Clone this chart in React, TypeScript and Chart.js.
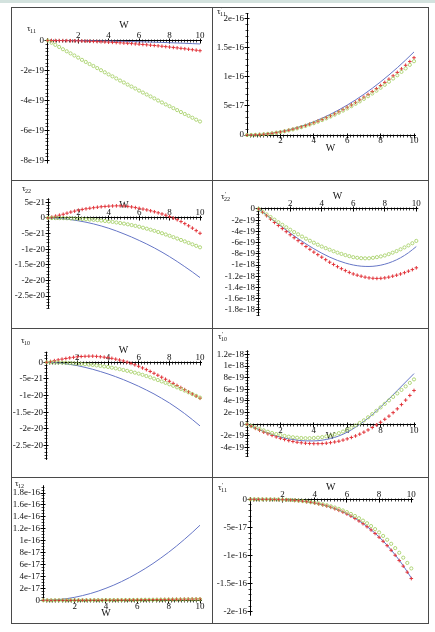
import React, { useEffect, useRef } from 'react';
import { Chart, registerables } from 'chart.js';

Chart.register(...registerables);

// ---------- data ----------
// W sample points: markers every 0.25, curves every 0.5
const W_MARK = [0, 0.25, 0.5, 0.75, 1, 1.25, 1.5, 1.75, 2, 2.25, 2.5, 2.75, 3, 3.25, 3.5, 3.75, 4, 4.25, 4.5, 4.75, 5, 5.25, 5.5, 5.75, 6, 6.25, 6.5, 6.75, 7, 7.25, 7.5, 7.75, 8, 8.25, 8.5, 8.75, 9, 9.25, 9.5, 9.75, 10];
const W_LINE = [0, 0.5, 1, 1.5, 2, 2.5, 3, 3.5, 4, 4.5, 5, 5.5, 6, 6.5, 7, 7.5, 8, 8.5, 9, 9.5, 10];
const X_TICKS = [2, 4, 6, 8, 10];

// tau_11 (values in units of 1e-19)
const T11_LINE = [0, -0.001, -0.002, -0.005, -0.009, -0.014, -0.021, -0.028, -0.037, -0.047, -0.058, -0.07, -0.083, -0.097, -0.113, -0.129, -0.147, -0.166, -0.186, -0.208, -0.23];
const T11_CROSS = [0, 0, -0.002, -0.004, -0.007, -0.011, -0.015, -0.021, -0.027, -0.034, -0.043, -0.051, -0.061, -0.072, -0.083, -0.096, -0.109, -0.123, -0.138, -0.153, -0.17, -0.187, -0.206, -0.225, -0.245, -0.266, -0.287, -0.31, -0.333, -0.357, -0.383, -0.408, -0.435, -0.463, -0.491, -0.521, -0.551, -0.582, -0.614, -0.646, -0.68];
const T11_CIRCLE = [0, -0.15, -0.29, -0.43, -0.58, -0.72, -0.86, -1.0, -1.14, -1.29, -1.43, -1.57, -1.7, -1.84, -1.98, -2.12, -2.26, -2.39, -2.53, -2.67, -2.8, -2.94, -3.07, -3.2, -3.34, -3.47, -3.6, -3.73, -3.86, -4.0, -4.13, -4.26, -4.38, -4.51, -4.64, -4.77, -4.9, -5.02, -5.15, -5.28, -5.4];
const T11_YTICKS = [0, -2, -4, -6, -8];

// tau'_11, first panel (units of 1e-17)
const TP11A_LINE = [0, 0.036, 0.143, 0.322, 0.572, 0.894, 1.287, 1.752, 2.288, 2.896, 3.575, 4.326, 5.148, 6.042, 7.007, 8.044, 9.152, 10.332, 11.583, 12.906, 14.3];
const TP11A_CROSS = [0, 0.008, 0.033, 0.075, 0.133, 0.208, 0.299, 0.407, 0.532, 0.673, 0.831, 1.006, 1.197, 1.405, 1.629, 1.87, 2.128, 2.402, 2.693, 3.001, 3.325, 3.666, 4.023, 4.397, 4.788, 5.195, 5.619, 6.06, 6.517, 6.991, 7.481, 7.988, 8.512, 9.052, 9.609, 10.183, 10.773, 11.38, 12.003, 12.643, 13.3];
const TP11A_CIRCLE = [0, 0.008, 0.032, 0.071, 0.127, 0.198, 0.286, 0.389, 0.508, 0.643, 0.794, 0.96, 1.143, 1.341, 1.556, 1.786, 2.032, 2.294, 2.572, 2.865, 3.175, 3.5, 3.842, 4.199, 4.572, 4.961, 5.366, 5.786, 6.223, 6.675, 7.144, 7.628, 8.128, 8.644, 9.176, 9.723, 10.287, 10.866, 11.462, 12.073, 12.7];
const TP11A_YTICKS = [0, 5, 10, 15, 20];

// tau_22 (units of 1e-21)
const T22_LINE = [0, -0.07, -0.25, -0.53, -0.9, -1.35, -1.9, -2.55, -3.3, -4.15, -5.1, -6.1, -7.2, -8.35, -9.6, -10.95, -12.4, -13.95, -15.6, -17.3, -19.1];
const T22_CROSS = [0, 0.3, 0.6, 0.9, 1.2, 1.55, 1.9, 2.2, 2.5, 2.75, 2.95, 3.13, 3.3, 3.46, 3.6, 3.71, 3.8, 3.86, 3.9, 3.89, 3.85, 3.72, 3.55, 3.34, 3.1, 2.86, 2.6, 2.31, 2.0, 1.66, 1.3, 0.9, 0.45, -0.03, -0.55, -1.15, -1.8, -2.5, -3.25, -4.05, -4.9];
const T22_CIRCLE = [0, -0.002, -0.01, -0.03, -0.05, -0.09, -0.14, -0.19, -0.25, -0.33, -0.41, -0.5, -0.6, -0.71, -0.83, -0.96, -1.1, -1.26, -1.43, -1.61, -1.8, -2.03, -2.27, -2.53, -2.8, -3.11, -3.43, -3.76, -4.1, -4.49, -4.88, -5.29, -5.7, -6.14, -6.59, -7.04, -7.5, -7.97, -8.44, -8.92, -9.4];
const T22_YTICKS = [5, 0, -5, -10, -15, -20, -25];

// tau'_22 (units of 1e-19)
const TP22_LINE = [0, -1.1, -2.19, -3.26, -4.3, -5.29, -6.23, -7.1, -7.89, -8.59, -9.18, -9.65, -10.0, -10.21, -10.26, -10.15, -9.86, -9.38, -8.71, -7.82, -6.7];
const TP22_CROSS = [0, -0.6, -1.2, -1.8, -2.4, -2.95, -3.5, -4.05, -4.6, -5.13, -5.65, -6.18, -6.7, -7.2, -7.7, -8.15, -8.6, -9.05, -9.5, -9.9, -10.3, -10.66, -11.0, -11.32, -11.6, -11.82, -12.0, -12.17, -12.3, -12.37, -12.4, -12.38, -12.3, -12.17, -12.0, -11.82, -11.6, -11.37, -11.1, -10.82, -10.5];
const TP22_CIRCLE = [0, -0.48, -0.96, -1.43, -1.9, -2.36, -2.82, -3.27, -3.7, -4.12, -4.52, -4.92, -5.3, -5.67, -6.02, -6.37, -6.7, -6.99, -7.27, -7.54, -7.8, -8.02, -8.23, -8.42, -8.6, -8.71, -8.78, -8.81, -8.8, -8.72, -8.6, -8.47, -8.3, -8.06, -7.8, -7.52, -7.2, -6.86, -6.5, -6.11, -5.7];
const TP22_YTICKS = [0, -2, -4, -6, -8, -10, -12, -14, -16, -18];

// tau_10 (units of 1e-21)
const T10_LINE = [0, -0.1, -0.3, -0.62, -1.0, -1.52, -2.1, -2.77, -3.5, -4.32, -5.2, -6.17, -7.2, -8.32, -9.5, -10.82, -12.2, -13.75, -15.4, -17.2, -19.1];
const T10_CROSS = [0, 0.25, 0.5, 0.73, 0.95, 1.15, 1.33, 1.5, 1.65, 1.74, 1.8, 1.84, 1.85, 1.78, 1.66, 1.54, 1.4, 1.19, 0.95, 0.69, 0.4, 0.04, -0.35, -0.76, -1.2, -1.69, -2.2, -2.74, -3.3, -3.88, -4.48, -5.09, -5.7, -6.33, -6.96, -7.58, -8.2, -8.85, -9.5, -10.15, -10.8];
const T10_CIRCLE = [0, -0.01, -0.03, -0.06, -0.1, -0.16, -0.24, -0.32, -0.4, -0.49, -0.59, -0.69, -0.8, -0.94, -1.09, -1.24, -1.4, -1.61, -1.83, -2.06, -2.3, -2.56, -2.83, -3.11, -3.4, -3.76, -4.13, -4.51, -4.9, -5.32, -5.74, -6.17, -6.6, -7.06, -7.53, -8.01, -8.5, -9.02, -9.54, -10.07, -10.6];
const T10_YTICKS = [0, -5, -10, -15, -20, -25];

// tau'_10 (units of 1e-19)
const TP10_LINE = [0, -0.65, -1.25, -1.75, -2.2, -2.5, -2.72, -2.84, -2.85, -2.72, -2.45, -2.0, -1.35, -0.5, 0.5, 1.65, 2.95, 4.35, 5.8, 7.25, 8.7];
const TP10_CROSS = [0, -0.35, -0.7, -1.03, -1.35, -1.63, -1.9, -2.16, -2.4, -2.61, -2.8, -2.95, -3.08, -3.17, -3.25, -3.29, -3.32, -3.32, -3.3, -3.24, -3.15, -3.03, -2.9, -2.71, -2.5, -2.26, -2.0, -1.69, -1.35, -0.97, -0.55, -0.12, 0.35, 0.86, 1.4, 2.0, 2.65, 3.38, 4.15, 4.95, 5.8];
const TP10_CIRCLE = [0, -0.28, -0.55, -0.8, -1.05, -1.28, -1.5, -1.68, -1.85, -1.99, -2.12, -2.22, -2.3, -2.35, -2.38, -2.38, -2.35, -2.3, -2.2, -2.08, -1.93, -1.74, -1.52, -1.24, -0.92, -0.58, -0.2, 0.23, 0.68, 1.2, 1.75, 2.32, 2.9, 3.5, 4.1, 4.7, 5.3, 5.9, 6.5, 7.1, 7.7];
const TP10_YTICKS = [12, 10, 8, 6, 4, 2, 0, -2, -4];

// tau_12 (units of 1e-17)
const T12_LINE = [0, 0.03, 0.13, 0.28, 0.5, 0.79, 1.13, 1.54, 2.02, 2.55, 3.15, 3.81, 4.54, 5.32, 6.17, 7.09, 8.06, 9.1, 10.21, 11.37, 12.6];
const T12_CROSS = [0, 0, 0, 0, 0, 0.01, 0.01, 0.01, 0.01, 0.01, 0.02, 0.02, 0.02, 0.03, 0.03, 0.04, 0.04, 0.05, 0.05, 0.06, 0.06, 0.07, 0.08, 0.08, 0.09, 0.1, 0.11, 0.11, 0.12, 0.13, 0.14, 0.15, 0.16, 0.17, 0.18, 0.19, 0.2, 0.21, 0.23, 0.24, 0.25];
const T12_CIRCLE = [0, 0, 0, 0, 0, 0, 0, 0, 0.01, 0.01, 0.01, 0.01, 0.01, 0.02, 0.02, 0.02, 0.02, 0.03, 0.03, 0.03, 0.04, 0.04, 0.05, 0.05, 0.05, 0.06, 0.06, 0.07, 0.07, 0.08, 0.08, 0.09, 0.1, 0.1, 0.11, 0.11, 0.12, 0.13, 0.14, 0.14, 0.15];
const T12_YTICKS = [0, 2, 4, 6, 8, 10, 12, 14, 16, 18];

// tau'_11, second panel (units of 1e-17)
const TP11B_LINE = [0, -0.001, -0.007, -0.027, -0.069, -0.144, -0.264, -0.438, -0.681, -1.004, -1.421, -1.947, -2.594, -3.378, -4.315, -5.418, -6.705, -8.189, -9.888, -11.82, -14.0];
const TP11B_CROSS = [0, 0, -0.001, -0.003, -0.007, -0.015, -0.027, -0.045, -0.07, -0.103, -0.145, -0.199, -0.265, -0.346, -0.442, -0.554, -0.685, -0.837, -1.011, -1.208, -1.431, -1.682, -1.961, -2.27, -2.613, -2.989, -3.402, -3.855, -4.346, -4.879, -5.457, -6.08, -6.752, -7.473, -8.247, -9.076, -9.959, -10.9, -11.9, -12.97, -14.1];
const TP11B_CIRCLE = [0, 0, -0.001, -0.002, -0.006, -0.013, -0.024, -0.039, -0.061, -0.09, -0.127, -0.174, -0.232, -0.302, -0.385, -0.483, -0.598, -0.73, -0.882, -1.054, -1.248, -1.467, -1.711, -1.98, -2.279, -2.608, -2.968, -3.363, -3.791, -4.256, -4.76, -5.304, -5.89, -6.519, -7.194, -7.918, -8.687, -9.509, -10.385, -11.32, -12.3];
const TP11B_YTICKS = [0, -5, -10, -15, -20];

// ---------- styling / layout ----------
const FONT = '"Liberation Serif", "Times New Roman", "DejaVu Serif", serif';
const BLUE = '#6676c6';
const RED = '#e2363c';
const GREEN = '#a0cd5c';
const AXIS = '#000';
const MINOR = '#444';
const TEXT = '#111';
const RULE = '#4a4a4a';
const X_MINOR = 0.2;

const COLS = [{ x: 12, w: 200 }, { x: 213, w: 215 }];
const ROWS = [{ y: 8, h: 172 }, { y: 181, h: 147 }, { y: 329, h: 148 }, { y: 478, h: 145 }];
const V_RULES = [11, 212, 428];
const H_RULES = [7, 180, 328, 477, 623];

type Panel = {
  id: string; col: number; row: number;
  x0: number; x10: number; zero: number; per: number;
  yMax: number; yMin: number; exp: number;
  yTicks: number[]; yMinor: number;
  labDy: number; wDy: number; wX: number;
  tau: { x: number; y: number; prime: boolean; sub: string };
  line: number[]; cross: number[]; circle: number[];
};

const PANELS: Panel[] = [
  { id: 't11', col: 0, row: 0, x0: 47.7, x10: 200, zero: 40.5, per: 15, yMax: 0.15, yMin: -8.2, exp: -19,
    yTicks: T11_YTICKS, yMinor: 0.25, labDy: -5, wDy: -15, wX: 5,
    tau: { x: 27, y: 31, prime: false, sub: '11' }, line: T11_LINE, cross: T11_CROSS, circle: T11_CIRCLE },
  { id: 'tp11a', col: 1, row: 0, x0: 247, x10: 414, zero: 135, per: 5.85, yMax: 21, yMin: -0.3, exp: -17,
    yTicks: TP11A_YTICKS, yMinor: 1, labDy: 5.5, wDy: 12.5, wX: 5,
    tau: { x: 217, y: 14, prime: true, sub: '11' }, line: TP11A_LINE, cross: TP11A_CROSS, circle: TP11A_CIRCLE },
  { id: 't22', col: 0, row: 1, x0: 48, x10: 200, zero: 218, per: 3.12, yMax: 6.3, yMin: -29, exp: -21,
    yTicks: T22_YTICKS, yMinor: 1, labDy: -5, wDy: -12.5, wX: 5,
    tau: { x: 22, y: 191, prime: false, sub: '22' }, line: T22_LINE, cross: T22_CROSS, circle: T22_CIRCLE },
  { id: 'tp22', col: 1, row: 1, x0: 258.7, x10: 416.3, zero: 209, per: 5.6, yMax: 0.4, yMin: -19.1, exp: -19,
    yTicks: TP22_YTICKS, yMinor: 0.5, labDy: -5, wDy: -12.3, wX: 5,
    tau: { x: 221, y: 199, prime: true, sub: '22' }, line: TP22_LINE, cross: TP22_CROSS, circle: TP22_CIRCLE },
  { id: 't10', col: 0, row: 2, x0: 46.7, x10: 200, zero: 362.3, per: 3.33, yMax: 3.2, yMin: -29.3, exp: -21,
    yTicks: T10_YTICKS, yMinor: 1, labDy: -4.8, wDy: -11.8, wX: 5,
    tau: { x: 21, y: 343, prime: false, sub: '10' }, line: T10_LINE, cross: T10_CROSS, circle: T10_CIRCLE },
  { id: 'tp10', col: 1, row: 2, x0: 247, x10: 414, zero: 424.3, per: 5.83, yMax: 12.7, yMin: -5.6, exp: -19,
    yTicks: TP10_YTICKS, yMinor: 0.5, labDy: 6, wDy: 11.7, wX: 5,
    tau: { x: 218, y: 339, prime: true, sub: '10' }, line: TP10_LINE, cross: TP10_CROSS, circle: TP10_CIRCLE },
  { id: 't12', col: 0, row: 3, x0: 43.3, x10: 200, zero: 600.3, per: 5.96, yMax: 19.3, yMin: -0.2, exp: -17,
    yTicks: T12_YTICKS, yMinor: 0.5, labDy: 5.7, wDy: 13.3, wX: 4,
    tau: { x: 15, y: 486, prime: false, sub: '12' }, line: T12_LINE, cross: T12_CROSS, circle: T12_CIRCLE },
  { id: 'tp11b', col: 1, row: 3, x0: 250.3, x10: 411.3, zero: 499.3, per: 5.62, yMax: 0.4, yMin: -20.7, exp: -17,
    yTicks: TP11B_YTICKS, yMinor: 1, labDy: -5, wDy: -12.6, wX: 5,
    tau: { x: 218, y: 490, prime: true, sub: '11' }, line: TP11B_LINE, cross: TP11B_CROSS, circle: TP11B_CIRCLE },
];

// Maple-style tick text, e.g. -2e-19, 1.5e-16, 0
function fmt(real: number): string {
  if (real === 0) return '0';
  return Number(real.toPrecision(6)).toExponential();
}

const crisp = (v: number) => Math.round(v - 0.5) + 0.5;

// Axes crossing at the origin, placed through the chart's own scales
function mapleAxes(p: Panel, cl: number, ct: number) {
  const unit = Math.pow(10, p.exp);
  return {
    id: 'mapleAxes',
    beforeDatasetsDraw(chart: any) {
      const { ctx, chartArea } = chart;
      const xs = chart.scales.x;
      const ys = chart.scales.y;
      const yPix = (v: number) => ys.getPixelForValue(v * unit);
      const ax = crisp(xs.getPixelForValue(0));
      const ay = crisp(yPix(0));
      ctx.save();
      ctx.lineWidth = 1;

      // minor ticks
      ctx.strokeStyle = MINOR;
      ctx.beginPath();
      const k0 = Math.ceil(p.yMin / p.yMinor - 1e-6);
      const k1 = Math.floor(p.yMax / p.yMinor + 1e-6);
      for (let k = k0; k <= k1; k++) {
        const y = crisp(yPix(k * p.yMinor));
        ctx.moveTo(ax - 2, y);
        ctx.lineTo(ax + 1, y);
      }
      for (let k = 1; k * X_MINOR <= 10 + 1e-9; k++) {
        const x = crisp(xs.getPixelForValue(k * X_MINOR));
        ctx.moveTo(x, ay - 1);
        ctx.lineTo(x, ay + 2);
      }
      ctx.stroke();

      // axis lines and major ticks
      ctx.strokeStyle = AXIS;
      ctx.beginPath();
      ctx.moveTo(ax, chartArea.top);
      ctx.lineTo(ax, chartArea.bottom);
      ctx.moveTo(ax, ay);
      ctx.lineTo(chartArea.right + 2, ay);
      for (const v of p.yTicks) {
        const y = crisp(yPix(v));
        ctx.moveTo(ax - 3, y);
        ctx.lineTo(ax + 2, y);
      }
      for (const v of X_TICKS) {
        const x = crisp(xs.getPixelForValue(v));
        ctx.moveTo(x, ay - 2);
        ctx.lineTo(x, ay + 3);
      }
      ctx.stroke();

      ctx.fillStyle = TEXT;
      ctx.font = `9px ${FONT}`;
      ctx.textAlign = 'right';
      ctx.textBaseline = 'middle';
      for (const v of p.yTicks) ctx.fillText(fmt(v * unit), ax - 3.5, yPix(v));
      ctx.textAlign = 'center';
      for (const v of X_TICKS) ctx.fillText(String(v), xs.getPixelForValue(v), ay + p.labDy);
      ctx.font = `10px ${FONT}`;
      ctx.fillText('W', xs.getPixelForValue(p.wX), ay + p.wDy);

      // ordinate name: tau with optional prime and a subscript
      const tx = p.tau.x - cl;
      const ty = p.tau.y - ct;
      ctx.textAlign = 'left';
      ctx.textBaseline = 'alphabetic';
      ctx.font = `9px ${FONT}`;
      ctx.fillText('τ', tx, ty);
      const tw = ctx.measureText('τ').width;
      ctx.font = `6px ${FONT}`;
      if (p.tau.prime) ctx.fillText('′', tx + tw + 0.5, ty - 3);
      ctx.fillText(p.tau.sub, tx + tw - 0.5, ty + 2);
      ctx.restore();
    },
  };
}

function PanelChart({ p }: { p: Panel }) {
  const ref = useRef<HTMLCanvasElement>(null);
  const cell = COLS[p.col];
  const band = ROWS[p.row];
  useEffect(() => {
    if (!ref.current) return;
    const unit = Math.pow(10, p.exp);
    const top = p.zero - p.yMax * p.per;
    const bottom = p.zero - p.yMin * p.per;
    const pts = (xs: number[], ys: number[]) => xs.map((x, i) => ({ x, y: ys[i] * unit }));
    const chart = new Chart(ref.current, {
      type: 'scatter',
      data: {
        datasets: [
          {
            data: pts(W_MARK, p.circle),
            showLine: false,
            pointStyle: 'circle',
            pointRadius: 1.6,
            pointBorderWidth: 0.8,
            pointBorderColor: GREEN,
            borderColor: GREEN,
            pointBackgroundColor: 'rgba(0,0,0,0)',
            backgroundColor: 'rgba(0,0,0,0)',
            clip: false,
          },
          {
            data: pts(W_MARK, p.cross),
            showLine: false,
            pointStyle: 'cross',
            pointRadius: 1.8,
            pointBorderWidth: 1,
            pointBorderColor: RED,
            borderColor: RED,
            pointBackgroundColor: RED,
            clip: false,
          },
          {
            data: pts(W_LINE, p.line),
            showLine: true,
            borderColor: BLUE,
            borderWidth: 1,
            pointRadius: 0,
            cubicInterpolationMode: 'monotone',
            fill: false,
            clip: false,
          },
        ],
      } as any,
      options: {
        animation: false,
        responsive: false,
        maintainAspectRatio: false,
        events: [],
        layout: {
          padding: {
            left: p.x0 - cell.x,
            right: cell.x + cell.w - p.x10,
            top: top - band.y,
            bottom: band.y + band.h - bottom,
          },
        },
        plugins: { legend: { display: false }, tooltip: { enabled: false }, title: { display: false } },
        scales: {
          x: { type: 'linear', min: 0, max: 10, display: false, ticks: { display: false } },
          y: { type: 'linear', min: p.yMin * unit, max: p.yMax * unit, display: false, ticks: { display: false } },
        },
      } as any,
      plugins: [mapleAxes(p, cell.x, band.y)],
    });
    return () => chart.destroy();
  }, [p]);
  return (
    <canvas
      ref={ref}
      width={cell.w}
      height={band.h}
      style={{ position: 'absolute', left: cell.x, top: band.y, width: cell.w, height: band.h }}
    />
  );
}

export default function App() {
  const x0 = V_RULES[0];
  const x1 = V_RULES[V_RULES.length - 1];
  const y0 = H_RULES[0];
  const y1 = H_RULES[H_RULES.length - 1];
  return (
    <div style={{ position: 'absolute', left: 0, top: 0, width: 435, height: 632, background: '#fff', overflow: 'hidden' }}>
      <div style={{ position: 'absolute', left: 0, top: 0, width: 435, height: 3, background: '#d3e2de' }} />
      {V_RULES.map((x) => (
        <div key={'v' + x} style={{ position: 'absolute', left: x, top: y0, width: 1, height: y1 - y0 + 1, background: RULE }} />
      ))}
      {H_RULES.map((y) => (
        <div key={'h' + y} style={{ position: 'absolute', left: x0, top: y, width: x1 - x0 + 1, height: 1, background: RULE }} />
      ))}
      {PANELS.map((p) => (
        <PanelChart key={p.id} p={p} />
      ))}
    </div>
  );
}
